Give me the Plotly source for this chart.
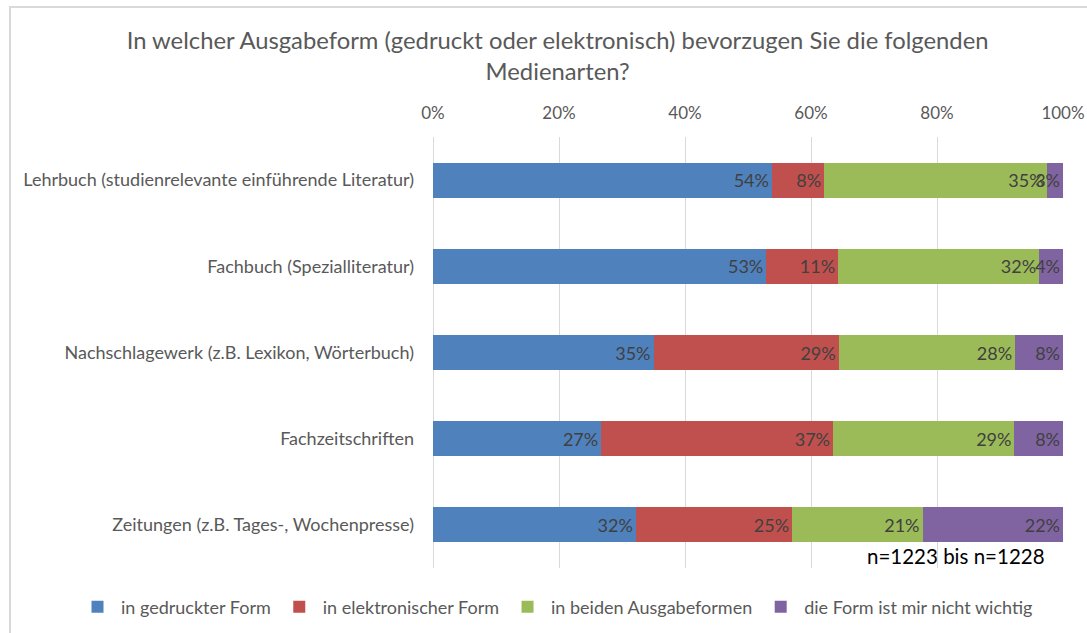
import plotly.graph_objects as go

categories = [
    "Lehrbuch (studienrelevante einführende Literatur)",
    "Fachbuch (Spezialliteratur)",
    "Nachschlagewerk (z.B. Lexikon, Wörterbuch)",
    "Fachzeitschriften",
    "Zeitungen (z.B. Tages-, Wochenpresse)",
]
series_names = [
    "in gedruckter Form",
    "in elektronischer Form",
    "in beiden Ausgabeformen",
    "die Form ist mir nicht wichtig",
]
gedruckt = [53.8, 52.9, 35.0, 26.7, 32.2]
elektronisch = [8.3, 11.4, 29.4, 36.8, 24.8]
beide = [35.3, 31.9, 28.0, 28.8, 20.7]
egal = [2.6, 3.8, 7.6, 7.7, 22.3]
labels_gedruckt = ["54%", "53%", "35%", "27%", "32%"]
labels_elektronisch = ["8%", "11%", "29%", "37%", "25%"]
labels_beide = ["35%", "32%", "28%", "29%", "21%"]
labels_egal = ["3%", "4%", "8%", "8%", "22%"]
tick_vals = [0, 20, 40, 60, 80, 100]
tick_text = ["0%", "20%", "40%", "60%", "80%", "100%"]
colors = ["#4F81BD", "#C0504D", "#9BBB59", "#8064A2"]

FONT = "Lato"
W, H = 1087, 633
ML, MR, MT, MB = 433, 24, 137, 65
PW, PH = W - ML - MR, H - MT - MB

fig = go.Figure()
for name, vals, labs, col in zip(
    series_names,
    [gedruckt, elektronisch, beide, egal],
    [labels_gedruckt, labels_elektronisch, labels_beide, labels_egal],
    colors,
):
    fig.add_trace(go.Bar(
        y=categories, x=vals, name=name, orientation="h",
        marker=dict(color=col, line=dict(width=0)),
        text=labs, textposition="inside", insidetextanchor="end", textangle=0,
        textfont=dict(family=FONT, size=18, color="#404040"),
        constraintext="none", cliponaxis=False,
        hoverinfo="skip",
    ))

fig.update_layout(
    barmode="stack",
    bargap=0.594,
    width=W, height=H,
    paper_bgcolor="white", plot_bgcolor="white",
    margin=dict(l=ML, r=MR, t=MT, b=MB, autoexpand=False),
    uniformtext=dict(mode="show", minsize=18),
    title=dict(
        text="In welcher Ausgabeform (gedruckt oder elektronisch) bevorzugen Sie die folgenden<br>Medienarten?",
        x=0.513, xanchor="center", y=1 - 49 / H, yanchor="middle",
        font=dict(family=FONT, size=23.8, color="#595959"),
    ),
    xaxis=dict(
        range=[0, 100], side="top", tickvals=tick_vals, ticktext=tick_text,
        showgrid=True, gridcolor="#D9D9D9", gridwidth=1,
        zeroline=True, zerolinecolor="#D9D9D9", zerolinewidth=1,
        showline=False, ticks="", ticklabelstandoff=14, automargin=False,
        tickfont=dict(family=FONT, size=17, color="#595959"),
    ),
    yaxis=dict(
        autorange="reversed", showgrid=False, showline=False, ticks="",
        ticklabelstandoff=18, automargin=False,
        tickfont=dict(family=FONT, size=18, color="#595959"),
    ),
    legend=dict(
        orientation="h", x=(74 - ML) / PW, xanchor="left",
        y=-(607 - (MT + PH)) / PH, yanchor="middle",
        font=dict(family=FONT, size=18, color="#595959"),
        traceorder="normal", itemwidth=37,
    ),
    annotations=[dict(
        text="n=1223 bis n=1228", xref="paper", yref="paper",
        x=(1047 - ML) / PW, y=(MT + PH - 556) / PH, xanchor="right", yanchor="middle",
        showarrow=False,
        font=dict(family=FONT, size=20.5, color="#000000"),
    )],
    shapes=[dict(
        type="rect", xref="paper", yref="paper",
        x0=(10 - ML) / PW, x1=(W + 20 - ML) / PW,
        y0=-(H + 20 - MT - PH) / PH, y1=(MT + PH - 7) / PH,
        line=dict(color="#D9D9D9", width=2), layer="below",
    )],
)

fig.write_html(
    "out.html",
    config={"displayModeBar": False},
    post_script="document.body.style.margin='0';",
)
